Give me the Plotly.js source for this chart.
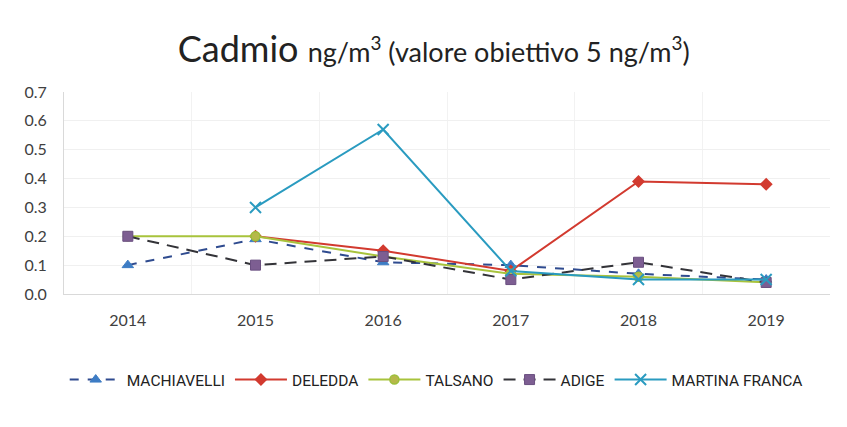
<!DOCTYPE html>
<html><head><meta charset="utf-8">
<script src="https://cdn.plot.ly/plotly-3.0.1.min.js"></script>
<style>body{margin:0;background:#fff}#c{width:847px;height:427px}</style>
</head><body><div id="c"></div>
<script>
const years = ["2014","2015","2016","2017","2018","2019"];
const machiavelli = [0.10, 0.19, 0.11, 0.10, 0.07, 0.05];
const deledda = [null, 0.20, 0.15, 0.08, 0.39, 0.38];
const talsano = [0.20, 0.20, 0.13, 0.07, 0.06, 0.04];
const adige = [0.20, 0.10, 0.13, 0.05, 0.11, 0.04];
const martinaFranca = [null, 0.30, 0.57, 0.08, 0.05, 0.05];
const yTicks = [0,0.1,0.2,0.3,0.4,0.5,0.6,0.7];
const yTickText = ["0.0","0.1","0.2","0.3","0.4","0.5","0.6","0.7"];

const traces = [
 {name:"MACHIAVELLI", x:years, y:machiavelli, mode:"lines+markers",
  line:{color:"#2f4b8f", width:2, dash:"dash"},
  marker:{symbol:"triangle-up", size:10, color:"#3d7cc4", line:{color:"#3d7cc4",width:1}}},
 {name:"DELEDDA", x:years, y:deledda, mode:"lines+markers",
  line:{color:"#d23a2f", width:2},
  marker:{symbol:"diamond", size:10, color:"#d23a2f"}},
 {name:"TALSANO", x:years, y:talsano, mode:"lines+markers",
  line:{color:"#a8c33c", width:2},
  marker:{symbol:"circle", size:9, color:"#b6b84a", line:{color:"#9cbf3a",width:1.5}}},
 {name:"ADIGE", x:years, y:adige, mode:"lines+markers",
  line:{color:"#333338", width:2, dash:"12px,8px"},
  marker:{symbol:"square", size:10, color:"#7d5e92", line:{color:"#6a4f80",width:1}}},
 {name:"MARTINA FRANCA", x:years, y:martinaFranca, mode:"lines+markers",
  line:{color:"#2a9bc0", width:2},
  marker:{symbol:"x-thin", size:11, color:"#2a9bc0", line:{color:"#2a9bc0",width:2}}}
];

const layout = {
 width:847, height:427,
 margin:{l:64, r:17, t:92, b:133},
 paper_bgcolor:"#fff", plot_bgcolor:"#fff",
 font:{family:"Lato, 'Open Sans', sans-serif", color:"#333"},
 title:{text:"Cadmio <span style='font-size:27px'>ng/m<sup>3</sup> (valore obiettivo 5 ng/m<sup>3</sup>)</span>",
   font:{size:36, family:"Lato, 'Open Sans', sans-serif", color:"#222"},
   x:0.512, xanchor:"center", xref:"container", y:0.885, yanchor:"middle", yref:"container"},
 xaxis:{type:"category", range:[-0.5,5.5], showgrid:true, gridcolor:"#f2f2f2", tickson:"boundaries",
   showline:true, linecolor:"#d9d9d9", ticklabelstandoff:12,
   ticks:"", tickfont:{size:16, color:"#404040"}, zeroline:false, fixedrange:true},
 yaxis:{range:[0,0.7], tickvals:yTicks, ticktext:yTickText, showgrid:true, gridcolor:"#f0f0f0",
   showline:true, linecolor:"#d9d9d9", zeroline:false, ticklabelstandoff:13,
   tickfont:{size:16, color:"#404040"}, ticks:"", ticklen:0},
 showlegend:true,
 legend:{orientation:"h", xref:"container", yref:"container", x:0.515, xanchor:"center",
   y:1-380/427, yanchor:"middle", itemwidth:52,
   font:{size:15.5, family:"Roboto, sans-serif", color:"#222"}}
};
Plotly.newPlot("c", traces, layout, {displayModeBar:false, staticPlot:true});
</script></body></html>
